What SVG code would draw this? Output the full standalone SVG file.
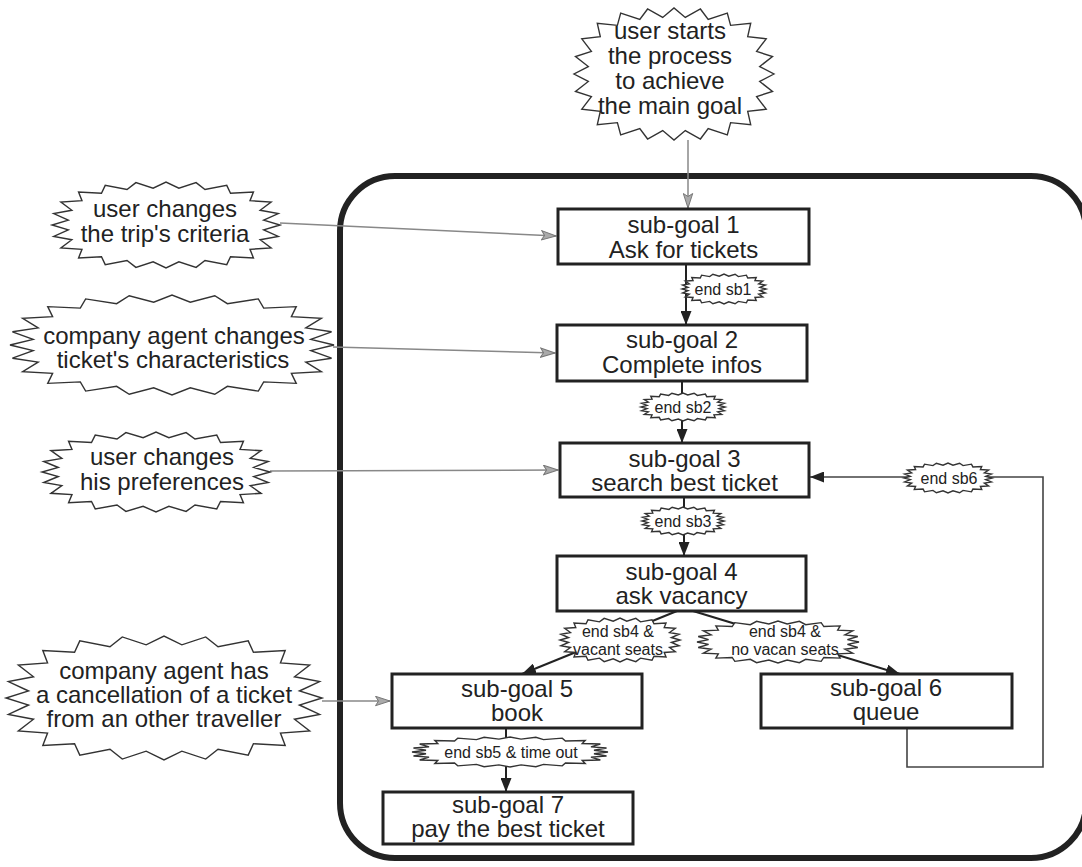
<svg xmlns="http://www.w3.org/2000/svg" xmlns:xlink="http://www.w3.org/1999/xlink" width="1082" height="867" viewBox="0 0 1082 867">
  <style>
    text { font-family: "Liberation Sans", Arial, sans-serif; fill: #222; text-anchor: middle; }
    .big { font-size: 24px; }
    .small { font-size: 16px; }
    .box { fill: #fff; stroke: #222; stroke-width: 3; }
    .frame { fill: none; stroke: #222; stroke-width: 6; }
    .burst { fill: #fff; stroke: #333; stroke-width: 1.4; }
    .event { fill: none; stroke: #888; stroke-width: 1.5; }
    .flow { fill: none; stroke: #222; stroke-width: 2; }
    .loop { fill: none; stroke: #444; stroke-width: 1.6; }
  </style>
  <defs>
    <!-- unit "explosion" outline, scaled per node with non-scaling stroke -->
    <polygon id="burst" vector-effect="non-scaling-stroke" points="1,0 .857,.113 .985,.264 .826,.342 .922,.533 .737,.566 .767,.767 .566,.737 .533,.922 .342,.826 .264,.985 .113,.857 0,1 -.113,.857 -.264,.985 -.342,.826 -.533,.922 -.566,.737 -.767,.767 -.737,.566 -.922,.533 -.826,.342 -.985,.264 -.857,.113 -1,0 -.857,-.113 -.985,-.264 -.826,-.342 -.922,-.533 -.737,-.566 -.767,-.767 -.566,-.737 -.533,-.922 -.342,-.826 -.264,-.985 -.113,-.857 0,-1 .113,-.857 .264,-.985 .342,-.826 .533,-.922 .566,-.737 .767,-.767 .737,-.566 .922,-.533 .826,-.342 .985,-.264 .857,-.113"/>
    <marker id="arrowBlack" markerUnits="userSpaceOnUse" markerWidth="15" markerHeight="11" refX="14" refY="5.5" orient="auto">
      <path d="M0,0 L14,5.5 L0,11 Z" fill="#222"/>
    </marker>
    <marker id="arrowGray" markerUnits="userSpaceOnUse" markerWidth="16" markerHeight="11" refX="15" refY="5.5" orient="auto">
      <path d="M0.5,0.8 L15,5.5 L0.5,10.2 L3.5,5.5 Z" fill="#aaa" stroke="#777" stroke-width="1"/>
    </marker>
  </defs>

  <rect width="1082" height="867" fill="#fff"/>

  <!-- process frame (its right side runs off the canvas) -->
  <g id="frame">
    <rect class="frame" x="340" y="176" width="746" height="682" rx="55" ry="55"/>
  </g>

  <!-- connectors -->
  <g id="connectors">
    <line class="event" x1="688" y1="140" x2="688" y2="208" marker-end="url(#arrowGray)"/>
    <line class="event" x1="280" y1="223" x2="556" y2="236" marker-end="url(#arrowGray)"/>
    <line class="event" x1="333" y1="347" x2="555" y2="353" marker-end="url(#arrowGray)"/>
    <line class="event" x1="270" y1="471" x2="558" y2="470" marker-end="url(#arrowGray)"/>
    <line class="event" x1="322" y1="701" x2="390" y2="701" marker-end="url(#arrowGray)"/>

    <line class="flow" x1="686" y1="264" x2="686" y2="325" marker-end="url(#arrowBlack)"/>
    <line class="flow" x1="682" y1="381" x2="682" y2="443" marker-end="url(#arrowBlack)"/>
    <line class="flow" x1="684" y1="497" x2="684" y2="556" marker-end="url(#arrowBlack)"/>
    <line class="flow" x1="677" y1="611" x2="522" y2="674" marker-end="url(#arrowBlack)"/>
    <line class="flow" x1="693" y1="611" x2="900" y2="674" marker-end="url(#arrowBlack)"/>
    <line class="flow" x1="506" y1="728" x2="506" y2="792" marker-end="url(#arrowBlack)"/>
    <polyline class="loop" points="907,728 907,767 1043,767 1043,477 810,477" marker-end="url(#arrowBlack)"/>
  </g>

  <!-- transition labels -->
  <g id="transition-labels">
    <g id="t-sb1">
      <use href="#burst" class="burst" transform="translate(724,289) scale(42,15)"/>
      <text class="small" x="723" y="294.5">end sb1</text>
    </g>
    <g id="t-sb2">
      <use href="#burst" class="burst" transform="translate(683,407) scale(42,14)"/>
      <text class="small" x="683" y="412.5">end sb2</text>
    </g>
    <g id="t-sb3">
      <use href="#burst" class="burst" transform="translate(683,521) scale(41,14)"/>
      <text class="small" x="683" y="526.5">end sb3</text>
    </g>
    <g id="t-sb4-vacant">
      <use href="#burst" class="burst" transform="translate(620,640) scale(60,22)"/>
      <text class="small" x="618" y="637">end sb4 &amp;</text>
      <text class="small" x="618" y="655">vacant seats</text>
    </g>
    <g id="t-sb4-novacant">
      <use href="#burst" class="burst" transform="translate(778,642) scale(81,21)"/>
      <text class="small" x="785" y="637">end sb4 &amp;</text>
      <text class="small" x="785" y="655">no vacan seats</text>
    </g>
    <g id="t-sb5">
      <use href="#burst" class="burst" transform="translate(510,752) scale(98,15)"/>
      <text class="small" x="511" y="757.5">end sb5 &amp; time out</text>
    </g>
    <g id="t-sb6">
      <use href="#burst" class="burst" transform="translate(948,478) scale(44,15)"/>
      <text class="small" x="949" y="483.5">end sb6</text>
    </g>
  </g>

  <!-- triggering events -->
  <g id="ev-start">
    <use href="#burst" class="burst" transform="translate(674,74) scale(100,66)"/>
    <text class="big" x="670" y="39">user starts</text>
    <text class="big" x="670" y="64">the process</text>
    <text class="big" x="670" y="89">to achieve</text>
    <text class="big" x="670" y="114">the main goal</text>
  </g>
  <g id="ev-criteria">
    <use href="#burst" class="burst" transform="translate(166,225) scale(114,43)"/>
    <text class="big" x="165" y="217">user changes</text>
    <text class="big" x="165" y="242">the trip's criteria</text>
  </g>
  <g id="ev-characteristics">
    <use href="#burst" class="burst" transform="translate(172,345) scale(162,50)"/>
    <text class="big" x="174" y="344">company agent changes</text>
    <text class="big" x="173" y="368">ticket's characteristics</text>
  </g>
  <g id="ev-preferences">
    <use href="#burst" class="burst" transform="translate(156,472) scale(114,40)"/>
    <text class="big" x="162" y="465">user changes</text>
    <text class="big" x="162" y="490">his preferences</text>
  </g>
  <g id="ev-cancellation">
    <use href="#burst" class="burst" transform="translate(164,698) scale(158,62)"/>
    <text class="big" x="164" y="679">company agent has</text>
    <text class="big" x="164" y="703">a cancellation of a ticket</text>
    <text class="big" x="164" y="727">from an other traveller</text>
  </g>

  <!-- sub-goals -->
  <g id="sg1">
    <rect class="box" x="558" y="209" width="251" height="55"/>
    <text class="big" x="683.5" y="233">sub-goal 1</text>
    <text class="big" x="683.5" y="258">Ask for tickets</text>
  </g>
  <g id="sg2">
    <rect class="box" x="557" y="325" width="250" height="56"/>
    <text class="big" x="682" y="348">sub-goal 2</text>
    <text class="big" x="682" y="373">Complete infos</text>
  </g>
  <g id="sg3">
    <rect class="box" x="560" y="443" width="249" height="54"/>
    <text class="big" x="684.5" y="467">sub-goal 3</text>
    <text class="big" x="684.5" y="491">search best ticket</text>
  </g>
  <g id="sg4">
    <rect class="box" x="557" y="556" width="249" height="55"/>
    <text class="big" x="681.5" y="580">sub-goal 4</text>
    <text class="big" x="681.5" y="604">ask vacancy</text>
  </g>
  <g id="sg5">
    <rect class="box" x="392" y="674" width="250" height="54"/>
    <text class="big" x="517" y="697">sub-goal 5</text>
    <text class="big" x="517" y="721">book</text>
  </g>
  <g id="sg6">
    <rect class="box" x="761" y="674" width="251" height="54"/>
    <text class="big" x="886" y="696">sub-goal 6</text>
    <text class="big" x="886" y="720">queue</text>
  </g>
  <g id="sg7">
    <rect class="box" x="383" y="792" width="250" height="52"/>
    <text class="big" x="508" y="813">sub-goal 7</text>
    <text class="big" x="508" y="837">pay the best ticket</text>
  </g>
</svg>
